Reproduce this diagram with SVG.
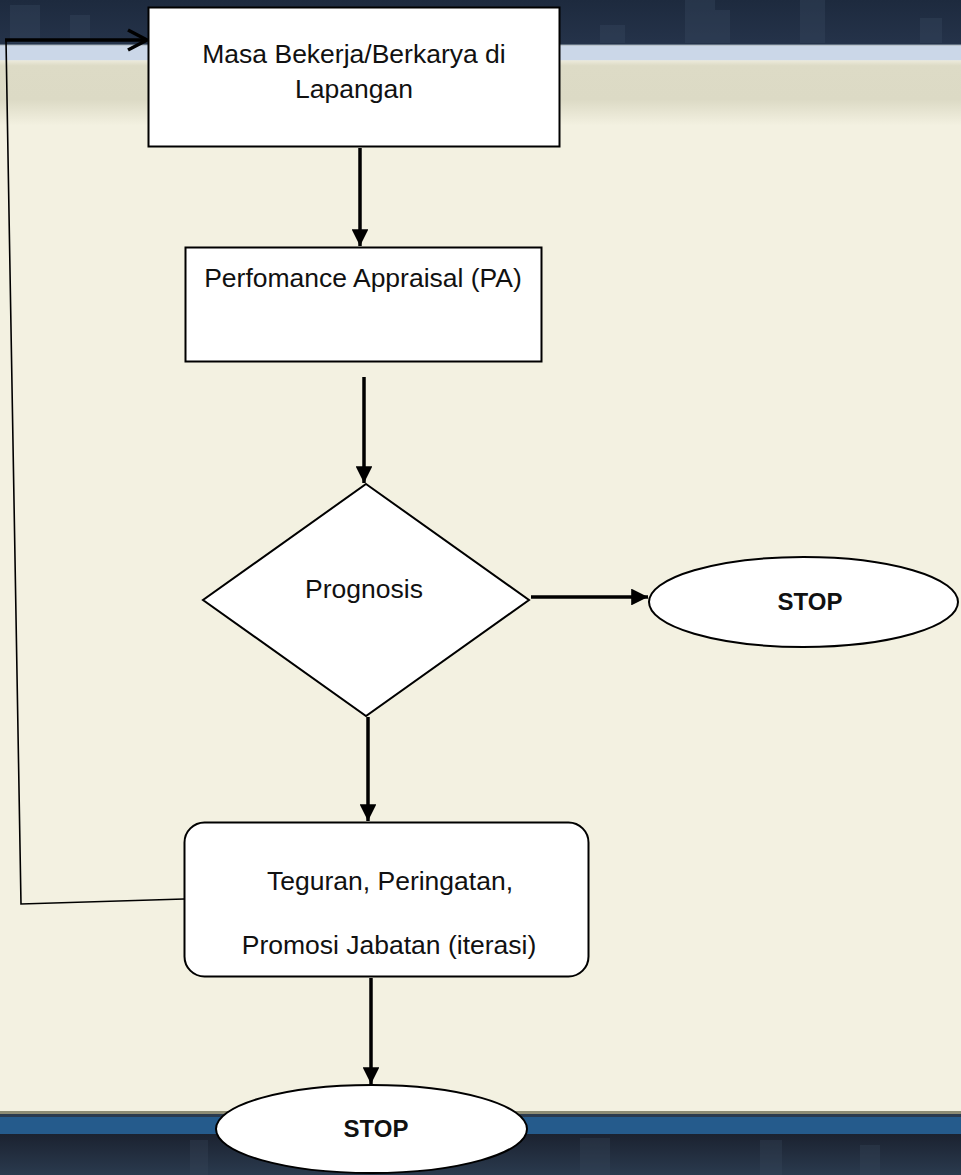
<svg xmlns="http://www.w3.org/2000/svg" width="961" height="1175" viewBox="0 0 961 1175">
<defs>
<style>
.node{fill:#ffffff;stroke:#000000;stroke-width:2}
.lbl{font-family:"Liberation Sans",Arial,sans-serif;font-size:26.5px;fill:#111111;text-anchor:middle}
.stop{font-family:"Liberation Sans",Arial,sans-serif;font-size:24px;font-weight:bold;fill:#111111;text-anchor:middle}
.flow{fill:none;stroke:#000000;stroke-width:3.5}
.thin{fill:none;stroke:#000000;stroke-width:1.6}
</style>
<marker id="ah" viewBox="0 0 10 10" refX="10" refY="5" markerWidth="4.8" markerHeight="4.8" orient="auto" markerUnits="strokeWidth">
<path d="M0,0 L10,5 L0,10 Z" fill="#000000"/>
</marker>
<linearGradient id="topg" x1="0" y1="0" x2="0" y2="1">
<stop offset="0" stop-color="#eceadb"/>
<stop offset="0.08" stop-color="#dddbc6"/>
<stop offset="0.6" stop-color="#dcdac5"/>
<stop offset="1" stop-color="#f3f1e1"/>
</linearGradient>
<linearGradient id="navy" x1="0" y1="0" x2="0" y2="1">
<stop offset="0" stop-color="#1d2a3e"/>
<stop offset="1" stop-color="#25334a"/>
</linearGradient>
<linearGradient id="navy2" x1="0" y1="0" x2="0" y2="1">
<stop offset="0" stop-color="#1b2230"/>
<stop offset="1" stop-color="#2a3a4e"/>
</linearGradient>
</defs>
<g id="background">
<rect x="0" y="0" width="961" height="1175" fill="#f3f1e1"/>
<rect x="0" y="0" width="961" height="45" fill="url(#navy)"/>
<g fill="#3a4b62" opacity="0.35">
<rect x="10" y="5" width="30" height="38"/>
<rect x="70" y="15" width="20" height="28"/>
<rect x="685" y="0" width="30" height="43"/>
<rect x="710" y="10" width="20" height="33"/>
<rect x="800" y="0" width="25" height="43"/>
<rect x="920" y="18" width="22" height="25"/>
<rect x="600" y="25" width="25" height="18"/>
</g>
<rect x="0" y="44" width="961" height="1.5" fill="#5f6e80"/>
<rect x="0" y="45.5" width="961" height="15" fill="#cbd7e8"/>
<rect x="0" y="60.5" width="961" height="65" fill="url(#topg)"/>
<rect x="0" y="1111" width="961" height="3" fill="#8d8c74"/>
<rect x="0" y="1114" width="961" height="3" fill="#2a3a4e"/>
<rect x="0" y="1117" width="961" height="17" fill="#255b8c"/>
<rect x="0" y="1134" width="961" height="41" fill="url(#navy2)"/>
<g fill="#3a4a5e" opacity="0.3">
<rect x="190" y="1140" width="18" height="35"/>
<rect x="580" y="1138" width="30" height="37"/>
<rect x="760" y="1140" width="22" height="35"/>
<rect x="860" y="1145" width="20" height="30"/>
</g>
</g>
<g id="connectors">
<path class="thin" d="M6,40 L21,904 L184,899"/>
<path d="M5,40 L147,40" fill="none" stroke="#000" stroke-width="3.5"/>
<path d="M128,30 L147,40 L128,50" fill="none" stroke="#000" stroke-width="3.5" stroke-linejoin="miter"/>
<path class="flow" d="M360,148 L360,246" marker-end="url(#ah)"/>
<path class="flow" d="M364,377 L364,483" marker-end="url(#ah)"/>
<path class="flow" d="M531,597 L648,597" marker-end="url(#ah)"/>
<path class="flow" d="M368,717 L368,821" marker-end="url(#ah)"/>
<path class="flow" d="M371,978 L371,1084" marker-end="url(#ah)"/>
</g>
<g id="node-masa">
<rect class="node" x="148.5" y="7.5" width="411" height="139"/>
<text class="lbl" x="354" y="63">Masa Bekerja/Berkarya di</text>
<text class="lbl" x="354" y="98">Lapangan</text>
</g>
<g id="node-pa">
<rect class="node" x="185.5" y="247.5" width="356" height="114"/>
<text class="lbl" x="363" y="287">Perfomance Appraisal (PA)</text>
</g>
<g id="node-prognosis">
<polygon class="node" points="366,484 529,600 366,716 203,600"/>
<text class="lbl" x="364" y="598">Prognosis</text>
</g>
<g id="node-stop-right">
<ellipse class="node" cx="803.5" cy="602" rx="154.5" ry="45"/>
<text class="stop" x="810" y="610">STOP</text>
</g>
<g id="node-teguran">
<rect class="node" x="184.5" y="822.5" width="404" height="154" rx="20" ry="20"/>
<text class="lbl" x="390" y="890">Teguran, Peringatan,</text>
<text class="lbl" x="389" y="954">Promosi Jabatan (iterasi)</text>
</g>
<g id="node-stop-bottom">
<ellipse class="node" cx="371.5" cy="1129" rx="155.5" ry="44"/>
<text class="stop" x="376" y="1137">STOP</text>
</g>
</svg>
